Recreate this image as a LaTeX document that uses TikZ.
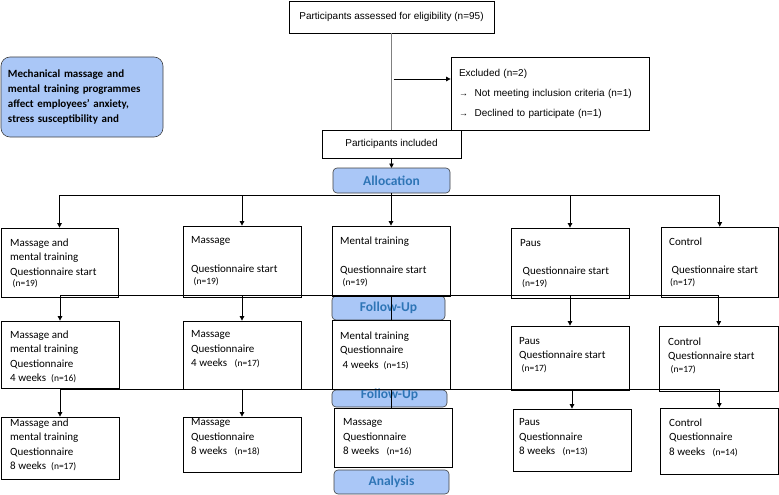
\documentclass[tikz,border=0pt]{standalone}
\usepackage{fontspec}
\setmainfont{Carlito}
\newfontfamily\arialfont{Liberation Sans}
\usetikzlibrary{arrows.meta}
\definecolor{stagefill}{RGB}{170,199,247}
\definecolor{stagetext}{RGB}{46,117,182}
\newcommand{\grpn}[1]{{\fontsize{9.5}{11}\selectfont (n=#1)}}
\tikzset{
  box/.style={draw,line width=0.8pt,inner sep=0pt},
  topbox/.style={draw,line width=0.8pt,inner sep=0pt,font=\arialfont\fontsize{10}{12}\selectfont},
  boxtext/.style={anchor=north west,align=left,inner sep=0pt,font=\fontsize{11}{14.5}\selectfont},
  stage/.style={draw=black!75,line width=0.6pt,fill=stagefill,rounded corners=4pt,inner sep=0pt,
    font=\bfseries\fontsize{13.5}{16}\selectfont,text=stagetext},
  aimbox/.style={draw=black!75,line width=0.6pt,fill=stagefill,rounded corners=9pt,
    inner xsep=7pt,inner ysep=0pt,text width=148pt,align=left,
    font=\bfseries\fontsize{11}{15}\selectfont},
  flow/.style={line width=0.8pt},
  >={Triangle[length=4.5pt,width=4.5pt]}
}
\begin{document}
\begin{tikzpicture}[x=1pt,y=-1pt]
  \useasboundingbox (0,0) rectangle (779,495);
  % enrolment
  \node[topbox,minimum width=205pt,minimum height=32pt] (elig) at (391.5,17) {Participants assessed for eligibility (n=95)};
  \node[topbox,minimum width=198pt,minimum height=73pt,text width=182pt,inner xsep=8pt,align=left] (excl) at (550,93.5)
    {Excluded (n=2)\\[8pt]{\fontsize{9}{9}\selectfont →}\ \ Not meeting inclusion criteria (n=1)\\[8pt]{\fontsize{9}{9}\selectfont →}\ \ Declined to participate (n=1)};
  \node[topbox,minimum width=139pt,minimum height=28pt] (incl) at (391.5,144) {Participants included};
  \node[aimbox,minimum height=80pt] (aim) at (82,97)
    {Mechanical massage and\\mental training programmes\\affect employees’ anxiety,\\stress susceptibility and};
  \coordinate (exclTap) at (393.5,79);
  \draw[gray,line width=0.8pt] (elig) -- (incl);
  \draw[flow,->] (exclTap) -- (exclTap -| excl.west);
  \draw[flow,->] (incl) -- (incl |- 0,168);

  % stage labels
  \node[stage,minimum width=117pt,minimum height=25pt] (alloc) at (391.5,180.5) {Allocation};
  \node[stage,minimum width=113pt,minimum height=24pt] (fu1) at (388.5,308) {Follow-Up};
  \node[stage,minimum width=115pt,minimum height=17pt] (fu2) at (389.5,398.5) {\raisebox{0pt}[0pt][0pt]{Follow-Up}};
  \node[stage,minimum width=115pt,minimum height=24pt] (an) at (391.5,482) {Analysis};

  % start
  \node[box,minimum width=117pt,minimum height=69pt] (s1) at (59.5,262.5) {};
  \node[box,minimum width=118pt,minimum height=71pt] (s2) at (242,261.5) {};
  \node[box,minimum width=118pt,minimum height=70pt] (s3) at (391,261) {};
  \node[box,minimum width=118pt,minimum height=70pt] (s4) at (570,263) {};
  \node[box,minimum width=117.5pt,minimum height=70pt] (s5) at (719.75,262) {};
  \node[boxtext] (s1t) at (10,238.5) {Massage and\\mental training\\Questionnaire start\\[-3pt]\ \grpn{19}};
  \node[boxtext] (s2t) at (191,236.5) {Massage\\[14.5pt]Questionnaire start\\[-2.5pt]\ \grpn{19}};
  \node[boxtext] (s3t) at (340,236.5) {Mental training\\[14.5pt]Questionnaire start\\[-2.5pt]\ \grpn{19}};
  \node[boxtext] (s4t) at (520,239) {Paus\\[14pt]\ Questionnaire start\\[-3pt]\hspace{2pt}\grpn{19}};
  \node[boxtext] (s5t) at (669,237.5) {Control\\[14pt]\ Questionnaire start\\[-3pt]\hspace{1pt}\grpn{17}};

  % 4 weeks
  \node[box,minimum width=118pt,minimum height=67pt] (w1) at (60,354.5) {};
  \node[box,minimum width=118pt,minimum height=68pt] (w2) at (242,355) {};
  \node[box,minimum width=118pt,minimum height=69pt] (w3) at (391,354.5) {};
  \node[box,minimum width=118pt,minimum height=64pt] (w4) at (570,358) {};
  \node[box,minimum width=119.5pt,minimum height=65pt] (w5) at (718.75,358.5) {};
  \node[boxtext] (w1t) at (10,330.5) {Massage and\\mental training\\Questionnaire\\4 weeks\ \ \grpn{16}};
  \node[boxtext] (w2t) at (191,330.5) {Massage\\Questionnaire\\4 weeks\ \ \ \grpn{17}};
  \node[boxtext] (w3t) at (340,331.5) {Mental training\\Questionnaire\\\ 4 weeks\ \ \grpn{15}};
  \node[boxtext] (w4t) at (519,337) {Paus\\Questionnaire start\\[-1.5pt]\ \grpn{17}};
  \node[boxtext] (w5t) at (668,337.5) {Control\\Questionnaire start\\[-1.5pt]\ \grpn{17}};

  % 8 weeks
  \node[box,minimum width=118pt,minimum height=62pt] (e1) at (60,448) {};
  \node[box,minimum width=118pt,minimum height=55pt] (e2) at (242,444.5) {};
  \node[box,minimum width=118pt,minimum height=59pt] (e3) at (393,437.5) {};
  \node[box,minimum width=118pt,minimum height=62pt] (e4) at (572,440) {};
  \node[box,minimum width=118.5pt,minimum height=66pt] (e5) at (719.25,441) {};
  \node[boxtext] (e1t) at (10,418.5) {Massage and\\mental training\\Questionnaire\\8 weeks\ \ \grpn{17}};
  \node[boxtext] (e2t) at (191,418.5) {Massage\\Questionnaire\\8 weeks\ \ \ \grpn{18}};
  \node[boxtext] (e3t) at (343,418.5) {Massage\\Questionnaire\\8 weeks\ \ \ \grpn{16}};
  \node[boxtext] (e4t) at (519,418.5) {Paus\\Questionnaire\\8 weeks\ \ \ \grpn{13}};
  \node[boxtext] (e5t) at (669,418.5) {Control\\Questionnaire\\8 weeks\ \ \ \grpn{14}};

  % connectors
  \coordinate (bus1) at (0,195);
  \coordinate (bus2) at (0,295);
  \coordinate (bus3) at (0,389);
  \draw[flow] (alloc.south) -- (alloc.south |- bus1);
  \draw[flow] (s1.north |- bus1) -- (s5.north |- bus1);
  \foreach \n in {s1,s2,s3,s4,s5}
    \draw[flow,->] (\n.north |- bus1) -- (\n.north);
  \draw[flow] (w1.north |- bus2) -- (w5.north |- bus2);
  \foreach \n in {w1,w2,w4,w5}
    \draw[flow,->] (\n.north |- bus2) -- (\n.north);
  \draw[flow] (s3) -- (w3);
  \draw[flow] (e1.north |- bus3) -- (e5.north |- bus3);
  \foreach \n in {e1,e2,e4,e5}
    \draw[flow,->] (\n.north |- bus3) -- (\n.north);
  \draw[flow] (w3.south) -- (w3.south |- e3.north);
\end{tikzpicture}
\end{document}
